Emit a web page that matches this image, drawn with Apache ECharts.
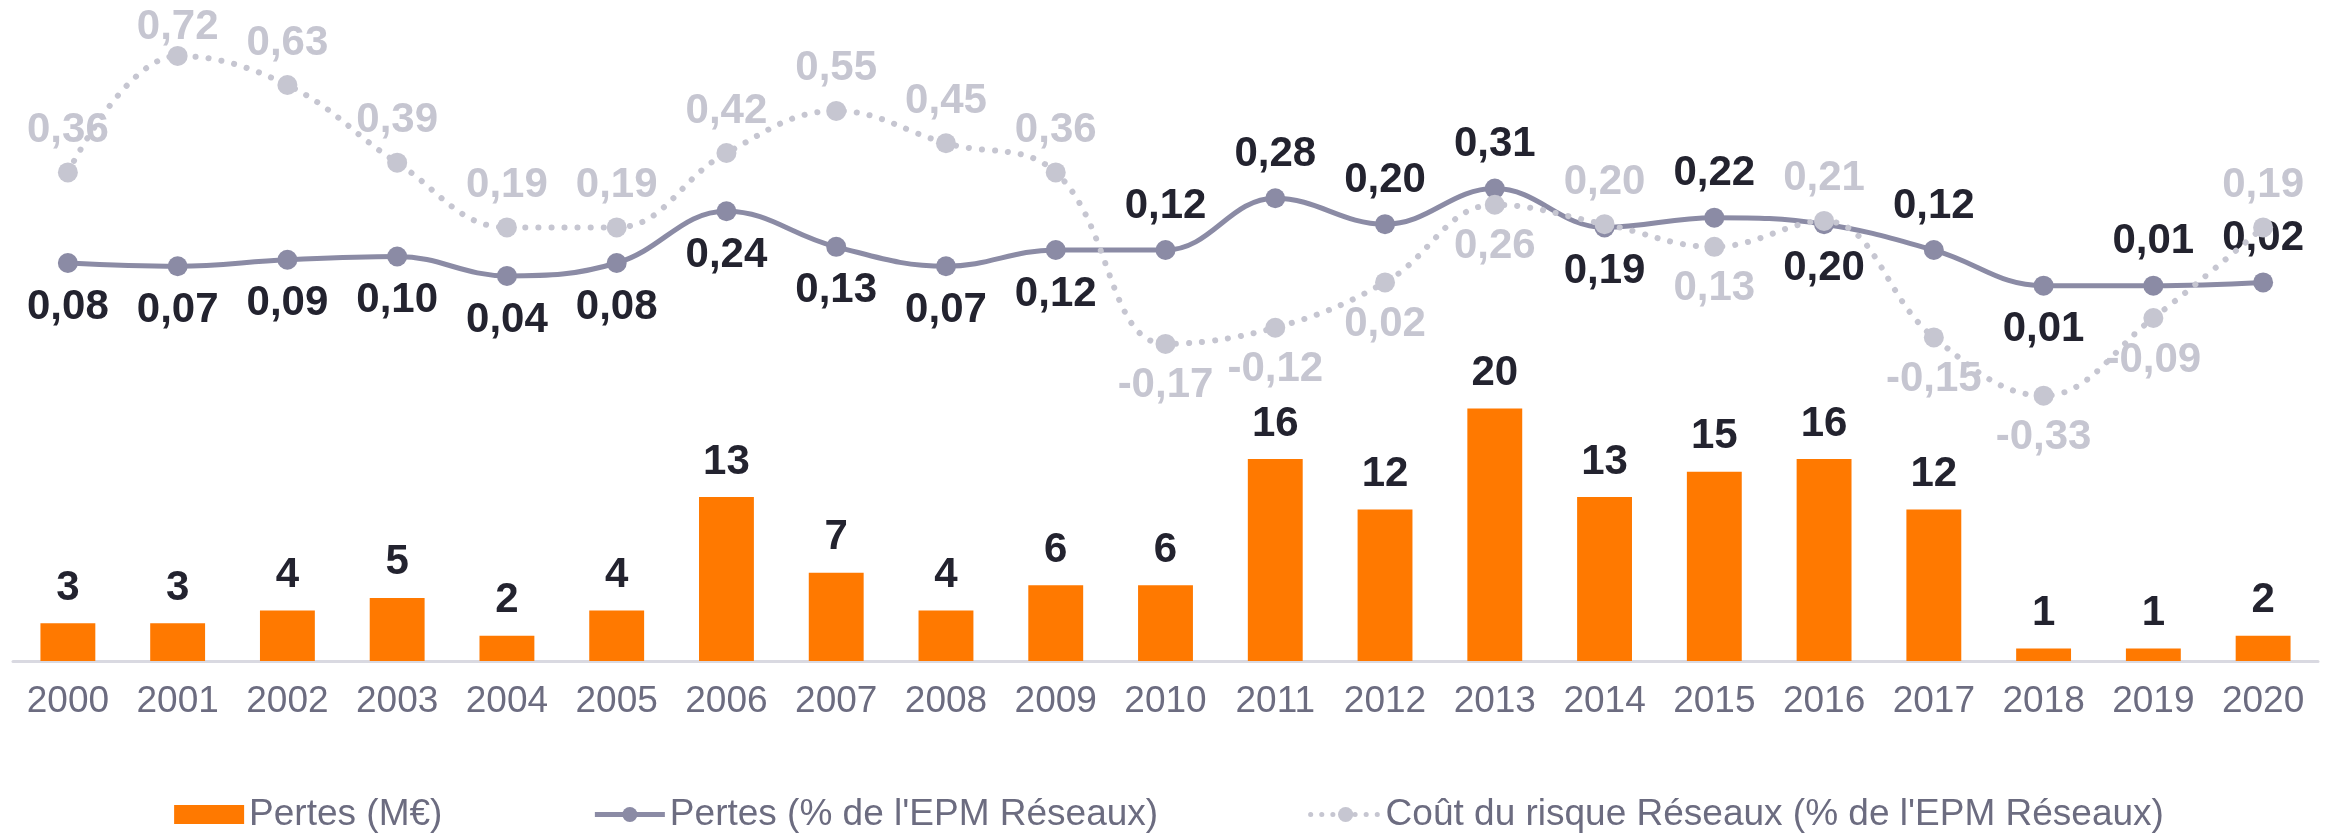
<!DOCTYPE html>
<html>
<head>
<meta charset="utf-8">
<script src="https://cdn.jsdelivr.net/npm/echarts@6/dist/echarts.min.js"></script>
<style>
  html, body { margin: 0; padding: 0; background: #fff; }
  #chart { width: 2338px; height: 833px; }
</style>
</head>
<body>
<div id="chart"></div>
<script>
// années
const years = ['2000','2001','2002','2003','2004','2005','2006','2007','2008','2009','2010',
  '2011','2012','2013','2014','2015','2016','2017','2018','2019','2020'];
// Pertes (M€)
const pertesME = [3, 3, 4, 5, 2, 4, 13, 7, 4, 6, 6, 16, 12, 20, 13, 15, 16, 12, 1, 1, 2];
// Pertes (% de l'EPM Réseaux)
const pertesPct = [0.08, 0.07, 0.09, 0.10, 0.04, 0.08, 0.24, 0.13, 0.07, 0.12, 0.12,
  0.28, 0.20, 0.31, 0.19, 0.22, 0.20, 0.12, 0.01, 0.01, 0.02];
// Coût du risque Réseaux (% de l'EPM Réseaux)
const coutRisque = [0.36, 0.72, 0.63, 0.39, 0.19, 0.19, 0.42, 0.55, 0.45, 0.36, -0.17,
  -0.12, 0.02, 0.26, 0.20, 0.13, 0.21, -0.15, -0.33, -0.09, 0.19];

// côté des étiquettes (t = dessus, b = dessous)
const pertesSide = 'bbbbbbbbbbttttbtbtbtt';
const coutSide   = 'ttttttttttbbbbtbtbbbt';

const FONT = "'Liberation Sans', Arial, sans-serif";
const DARK = '#23232f';
const LINE = '#8b8ba5';
const GREY = '#c6c6d1';
const fmt = v => v.toFixed(2).replace('.', ',');

const chart = echarts.init(document.getElementById('chart'));

const option = {
  animation: false,
  textStyle: { fontFamily: FONT },
  grid: { left: 13, right: 20, top: 30, bottom: 172, containLabel: false },
  legend: {
    top: 791,
    left: 'center',
    itemGap: 150,
    itemWidth: 70,
    itemHeight: 19,
    textStyle: { fontSize: 37, color: '#6c6c80', fontFamily: FONT },
    data: [
      { name: "Pertes (M€)", icon: 'rect' },
      { name: "Pertes (% de l'EPM Réseaux)", lineStyle: { width: 5, color: LINE } },
      { name: "Coût du risque Réseaux (% de l'EPM Réseaux)",
        lineStyle: { width: 5, color: GREY, type: [0.1, 11], cap: 'round' } }
    ]
  },
  xAxis: {
    type: 'category',
    data: years,
    axisTick: { show: false },
    axisLine: { lineStyle: { color: '#d9d9e1', width: 3 } },
    axisLabel: { fontSize: 37, color: '#6c6c80', margin: 22, interval: 0 }
  },
  yAxis: [
    { type: 'value', min: 0, max: 50, show: false, splitLine: { show: false } },
    { type: 'value', min: -1.15, max: 0.8, show: false, splitLine: { show: false } }
  ],
  series: [
    {
      name: "Pertes (M€)",
      type: 'bar',
      barWidth: '50%',
      itemStyle: { color: '#ff7900' },
      label: {
        show: true, position: 'top', distance: 14,
        fontSize: 42, fontWeight: 'bold', color: DARK
      },
      data: pertesME
    },
    {
      name: "Pertes (% de l'EPM Réseaux)",
      type: 'line',
      yAxisIndex: 1,
      smooth: 0.4,
      symbol: 'circle',
      symbolSize: 20,
      z: 3,
      lineStyle: { color: LINE, width: 5 },
      itemStyle: { color: LINE },
      data: pertesPct.map((v, i) => ({
        value: v,
        label: {
          show: true,
          position: pertesSide[i] === 't' ? 'top' : 'bottom',
          distance: 13,
          fontSize: 42, fontWeight: 'bold', color: DARK,
          formatter: p => fmt(p.value)
        }
      }))
    },
    {
      name: "Coût du risque Réseaux (% de l'EPM Réseaux)",
      type: 'line',
      yAxisIndex: 1,
      smooth: 0.4,
      symbol: 'circle',
      symbolSize: 20,
      z: 4,
      lineStyle: { color: GREY, width: 6, type: [0.1, 13], cap: 'round' },
      itemStyle: { color: GREY },
      data: coutRisque.map((v, i) => ({
        value: v,
        label: {
          show: true,
          position: coutSide[i] === 't' ? 'top' : 'bottom',
          // 2001 : étiquette rabattue pour rester dans le cadre
          distance: i === 1 ? -3 : 11,
          fontSize: 42, fontWeight: 'bold', color: GREY,
          formatter: p => fmt(p.value)
        }
      }))
    }
  ]
};

chart.setOption(option);
</script>
</body>
</html>
